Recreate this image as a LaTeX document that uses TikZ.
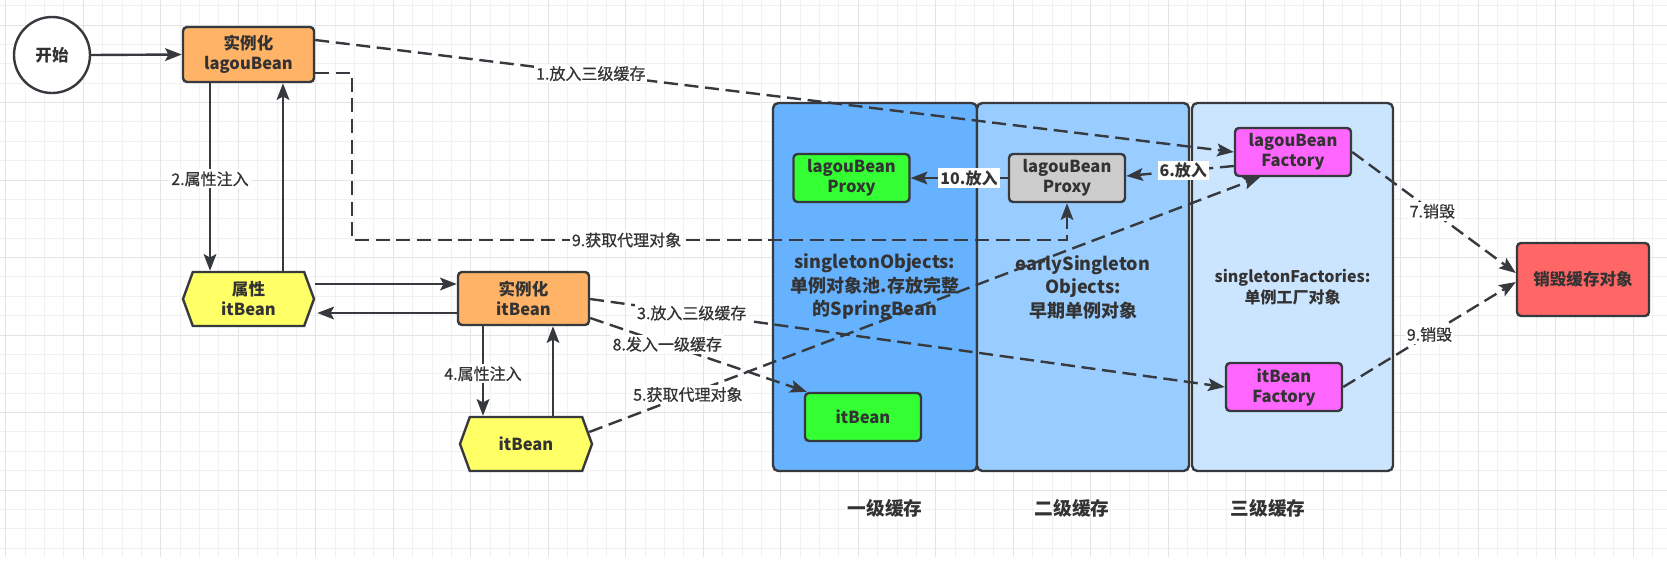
\documentclass[tikz,border=0pt]{standalone}
\usepackage{fontspec}
\setmainfont{Noto Sans CJK SC}
\newfontfamily\lblfont[FakeBold=0.7]{Noto Sans CJK SC}
\usetikzlibrary{shapes.symbols,arrows.meta,calc}
\definecolor{linec}{HTML}{36393D}
\definecolor{txt}{HTML}{333333}
\definecolor{gridminor}{HTML}{F1F1F1}
\definecolor{gridmajor}{HTML}{E4E4E4}
\definecolor{orangec}{HTML}{FFB366}
\definecolor{hexc}{HTML}{FFFF66}
\definecolor{greenc}{HTML}{33FF33}
\definecolor{grayc}{HTML}{CCCCCC}
\definecolor{magc}{HTML}{FF66FF}
\definecolor{redc}{HTML}{FF6666}
\definecolor{cone}{HTML}{66B2FF}
\definecolor{ctwo}{HTML}{99CCFF}
\definecolor{cthree}{HTML}{CCE5FF}
\begin{document}
\begin{tikzpicture}[x=0.75pt,y=-0.75pt,
  boxfont/.style={font=\bfseries\fontsize{12.4}{15}\selectfont},
  box/.style={draw=linec, line width=1.8pt, rounded corners=3pt, align=center, boxfont, text=txt, inner sep=0pt},
  smallbox/.style={box, minimum width=87pt, minimum height=36pt},
  hexnode/.style={signal, signal to=east and west, signal pointer angle=140, draw=linec, line width=1.8pt, fill=hexc, align=center, boxfont, text=txt, inner sep=0pt},
  cont/.style={draw=linec, line width=1.8pt, rounded corners=4pt, align=center, text=txt, inner sep=0pt, minimum height=276pt},
  arr/.style={draw=linec, line width=1.8pt, -{Stealth[length=12.5pt,width=9.5pt,inset=2.5pt]}},
  darr/.style={arr, dash pattern=on 10.5pt off 5pt},
  lbl/.style={fill=white, inner sep=1.5pt, text=txt, font=\lblfont\fontsize{12}{14}\selectfont},
  boldlbl/.style={lbl, font=\bfseries\fontsize{12}{14}\selectfont},
  bottomlbl/.style={text=txt, font=\bfseries\fontsize{14}{16}\selectfont}
]
\useasboundingbox (0,0) rectangle (1667,579);
\fill[white] (0,0) rectangle (1667,579);
% grid
\foreach \i in {0,...,86} \draw[gridminor, line width=0.75pt] ({5.8+19.375*\i},0) -- ({5.8+19.375*\i},557);
\foreach \j in {0,...,28} \draw[gridminor, line width=0.75pt] (0,{5.625+19.375*\j}) -- (1667,{5.625+19.375*\j});
\foreach \i in {0,...,21} \draw[gridmajor, line width=0.75pt] ({5.8+77.5*\i},0) -- ({5.8+77.5*\i},557);
\foreach \j in {0,...,6} \draw[gridmajor, line width=0.75pt] (0,{25+77.5*\j}) -- (1667,{25+77.5*\j});

% containers
\node[cont, fill=cone, minimum width=153pt, font=\bfseries\fontsize{13.5}{17.6}\selectfont] (c1) at (875,287) {singletonObjects:\\单例对象池.存放完整\\的SpringBean};
\node[cont, fill=ctwo, minimum width=159pt, font=\bfseries\fontsize{13.5}{17.6}\selectfont] (c2) at (1083,287) {earlySingleton\\Objects:\\早期单例对象};
\node[cont, fill=cthree, minimum width=150.75pt, font=\bfseries\fontsize{12}{15.75}\selectfont] (c3) at (1292.5,287) {singletonFactories:\\单例工厂对象};

\node[bottomlbl] (l1) at (885,508) {一级缓存};
\node[bottomlbl] (l2) at (1072,508) {二级缓存};
\node[bottomlbl] (l3) at (1268,508) {三级缓存};

% nodes
\node[circle, draw=linec, line width=1.8pt, fill=white, minimum size=57pt, inner sep=0pt, boxfont, text=txt] (start) at (52,55) {开始};
\node[box, fill=orangec, minimum width=98.25pt, minimum height=41.25pt] (lagou) at (248.5,54.5) {实例化\\lagouBean};
\node[hexnode, minimum width=98.25pt, minimum height=40.5pt] (hexA) at (248.5,299) {属性\\itBean};
\node[box, fill=orangec, minimum width=98.25pt, minimum height=39.75pt] (itOrange) at (523.5,298.5) {实例化\\itBean};
\node[hexnode, minimum width=99pt, minimum height=40.5pt] (hexB) at (526,444) {itBean};

\node[smallbox, fill=greenc] (greenProxy) at (851.5,178) {lagouBean\\Proxy};
\node[smallbox, fill=grayc] (grayProxy) at (1067,178) {lagouBean\\Proxy};
\node[smallbox, fill=magc] (lagouFac) at (1293,152) {lagouBean\\Factory};
\node[smallbox, fill=magc] (itFac) at (1284,387) {itBean\\Factory};
\node[smallbox, fill=greenc] (itGreen) at (863,417) {itBean};
\node[box, fill=redc, minimum width=99pt, minimum height=54.75pt] (red) at (1583,279.5) {销毁缓存对象};

% solid connectors
\draw[arr] (start.east) -- (lagou.west);
\draw[arr] ($(lagou.south)+(-38.5,0)$) -- node[lbl, pos=0.51]{2.属性注入} ($(hexA.north)+(-38.5,0)$);
\draw[arr] ($(hexA.north)+(34.5,0)$) -- ($(lagou.south)+(34.5,0)$);
\draw[arr] ($(hexA.east)+(0,-15)$) -- ($(itOrange.west)+(0,-14.5)$);
\draw[arr] ($(itOrange.west)+(0,14.5)$) -- ($(hexA.east)+(2,14)$);
\draw[arr] ($(itOrange.south)+(-40.5,0)$) -- node[lbl, pos=0.53]{4.属性注入} ($(hexB.north)+(-43,0)$);
\draw[arr] ($(hexB.north)+(27,0)$) -- ($(itOrange.south)+(29.5,0)$);
\draw[arr] (grayProxy.west) -- node[boldlbl, pos=0.4]{10.放入} (greenProxy.east);

% dashed connectors
\draw[darr] ($(lagou.east)+(0,-14.5)$) -- node[lbl, pos=0.30]{1.放入三级缓存} (lagouFac.west);
\coordinate (b9) at (352,240);
\draw[darr] ($(lagou.east)+(0,18.5)$) -| (b9) -| node[lbl, pos=0.192]{9.获取代理对象} (grayProxy.south);
\draw[darr] ($(itOrange.east)+(0,0.5)$) -- node[lbl, pos=0.16]{3.放入三级缓存} (itFac.west);
\draw[darr] ($(itOrange.east)+(0,19.5)$) -- node[lbl, pos=0.356]{8.发入一级缓存} ($(itGreen.north west)+(3,0)$);
\draw[darr] ($(hexB.east)+(-4,-12)$) -- node[lbl, pos=0.147]{5.获取代理对象} ($(lagouFac.south)+(-33,0)$);
\draw[darr] ($(lagouFac.west)+(0,14)$) -- node[boldlbl, pos=0.47]{6.放入} ($(grayProxy.east)+(0,-2)$);
\draw[darr] (lagouFac.east) -- node[lbl, pos=0.49]{7.销毁} ($(red.west)+(0,-6.5)$);
\draw[darr] (itFac.east) -- node[lbl, pos=0.5]{9.销毁} ($(red.west)+(0,2.5)$);
\end{tikzpicture}
\end{document}
